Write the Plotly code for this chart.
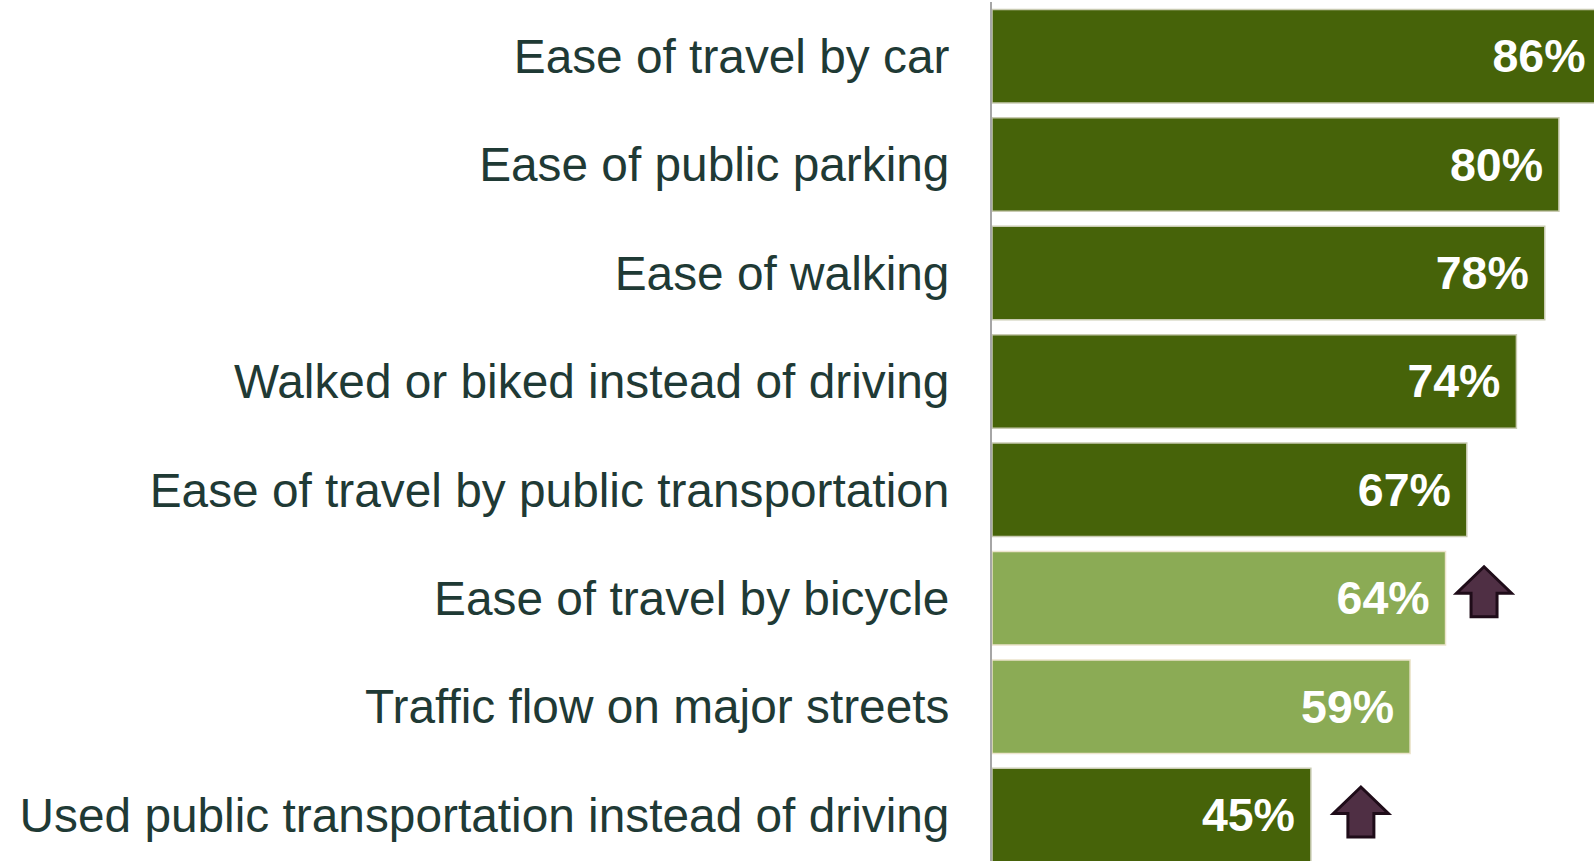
import plotly.graph_objects as go

categories = [
    "Ease of travel by car",
    "Ease of public parking",
    "Ease of walking",
    "Walked or biked instead of driving",
    "Ease of travel by public transportation",
    "Ease of travel by bicycle",
    "Traffic flow on major streets",
    "Used public transportation instead of driving",
]
values = [86, 80, 78, 74, 67, 64, 59, 45]
highlight = [False, False, False, False, False, True, True, False]
arrow_up = [False, False, False, False, False, True, False, True]

DARK = "#466309"
LIGHT = "#8bab55"
bar_colors = [LIGHT if h else DARK for h in highlight]
line_colors = ["#ece4cc" if h else "#c9cbb2" for h in highlight]
ypos = list(range(len(categories)))

fig = go.Figure()
fig.add_trace(go.Bar(
    x=values, y=ypos, orientation="h",
    marker=dict(color=bar_colors, line=dict(color=line_colors, width=1.5)),
    width=0.8625,
    texttemplate="%{x}%\u00a0",
    textposition="inside", insidetextanchor="end", textangle=0,
    constraintext="none",
    textfont=dict(family="Arial, Liberation Sans", size=46.5, color="white", weight="bold"),
    hoverinfo="skip",
))

# up-arrows drawn in pixel units anchored at the bar ends
arrow_offsets = {5: (38.5, 6.5), 7: (50, 3)}  # (dx px from bar end, dy px up from bar center)
hw, sw, tip, base, bot = 27.5, 13, 25, -1.5, -25
for i, up in enumerate(arrow_up):
    if not up:
        continue
    dx, dy = arrow_offsets[i]
    pts = [(0, tip), (hw, base), (sw, base), (sw, bot), (-sw, bot), (-sw, base), (-hw, base)]
    path = "M " + " L ".join(f"{dx + px},{dy + py}" for px, py in pts) + " Z"
    fig.add_shape(type="path", xref="x", yref="y", xsizemode="pixel", ysizemode="pixel",
                  xanchor=values[i], yanchor=i, path=path,
                  fillcolor="#4f2f44", line=dict(color="#1f0c19", width=3))

fig.update_layout(
    width=1594, height=861,
    margin=dict(l=992, r=0, t=2, b=0),
    plot_bgcolor="white", paper_bgcolor="white",
    showlegend=False,
    bargap=0.1375,
    hovermode=False,
    xaxis=dict(range=[0, 84.95], visible=False, showgrid=False, zeroline=False, fixedrange=True),
    yaxis=dict(
        tickvals=ypos, ticktext=categories, range=[7.424, -0.5],
        showgrid=False, zeroline=False, showline=True, linecolor="#a6a6a6", linewidth=2,
        ticks="", ticklabelstandoff=31, automargin=False, fixedrange=True,
        tickfont=dict(family="Arial, Liberation Sans", size=47.8, color="#1f3a35"),
    ),
)

fig.write_html(
    "out.html",
    config={"displayModeBar": False, "staticPlot": False},
    post_script="document.body.style.margin='0';document.body.style.overflow='hidden';",
)
